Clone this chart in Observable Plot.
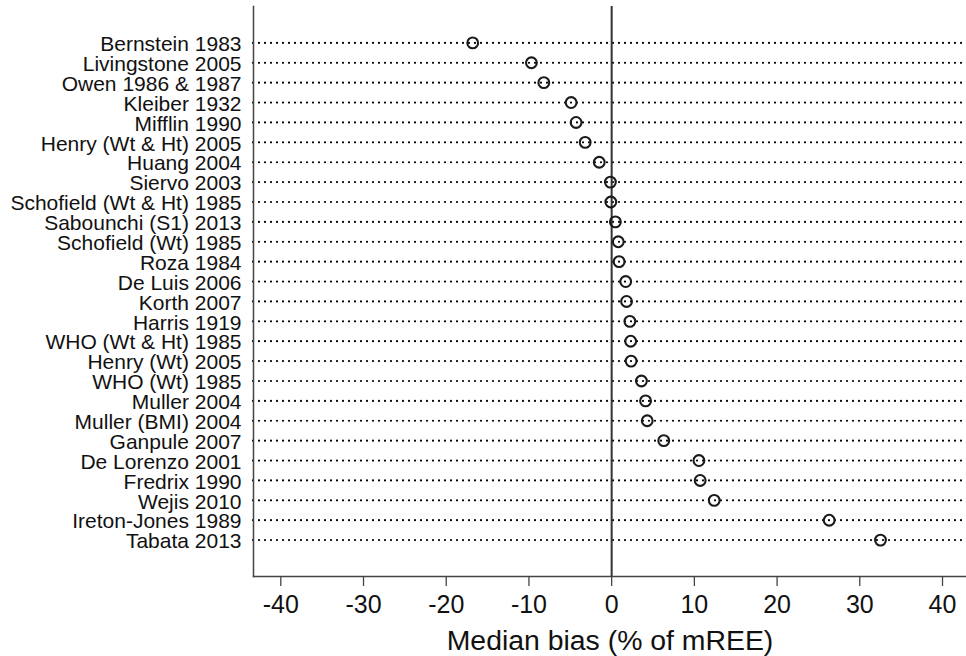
<!DOCTYPE html>
<html>
<head>
<meta charset="utf-8">
<script src="https://cdn.jsdelivr.net/npm/d3@7"></script>
<script src="https://cdn.jsdelivr.net/npm/@observablehq/plot@0.6"></script>
<style>
  html, body { margin: 0; padding: 0; background: #fff; }
  svg { display: block; }
</style>
</head>
<body>
<div id="chart"></div>
<script>
const studies = [
  "Bernstein 1983", "Livingstone 2005", "Owen 1986 & 1987", "Kleiber 1932",
  "Mifflin 1990", "Henry (Wt & Ht) 2005", "Huang 2004", "Siervo 2003",
  "Schofield (Wt & Ht) 1985", "Sabounchi (S1) 2013", "Schofield (Wt) 1985",
  "Roza 1984", "De Luis 2006", "Korth 2007", "Harris 1919", "WHO (Wt & Ht) 1985",
  "Henry (Wt) 2005", "WHO (Wt) 1985", "Muller 2004", "Muller (BMI) 2004",
  "Ganpule 2007", "De Lorenzo 2001", "Fredrix 1990", "Wejis 2010",
  "Ireton-Jones 1989", "Tabata 2013"
];
const medianBias = [
  -16.8, -9.7, -8.2, -4.9,
  -4.3, -3.2, -1.5, -0.15,
  -0.1, 0.45, 0.8,
  0.9, 1.7, 1.8, 2.2, 2.3,
  2.35, 3.6, 4.1, 4.3,
  6.3, 10.55, 10.7, 12.4,
  26.3, 32.5
];
const xTicks = [-40, -30, -20, -10, 0, 10, 20, 30, 40];
const xLabel = "Median bias (% of mREE)";

const data = studies.map((s, i) => ({study: s, bias: medianBias[i]}));

const font = "'Liberation Sans', Arial, Helvetica, sans-serif";

const chart = Plot.plot({
  width: 966,
  height: 656,
  marginLeft: 253,
  marginRight: 0,
  marginTop: 6,
  marginBottom: 80,
  style: {fontFamily: font, background: "#fff", color: "#222"},
  x: {domain: [-43.3, 42.9]},
  y: {domain: studies, type: "point", padding: 1.83, round: false},
  marks: [
    Plot.ruleY(data, {y: "study", stroke: "#000", strokeWidth: 2.2, strokeDasharray: "0,6", strokeLinecap: "round"}),
    Plot.ruleX([0], {stroke: "#333", strokeWidth: 2}),
    Plot.frame({anchor: "left", stroke: "#444", strokeWidth: 1.5}),
    Plot.frame({anchor: "bottom", stroke: "#444", strokeWidth: 1.5}),
    Plot.dot(data, {x: "bias", y: "study", r: 5.4, stroke: "#1a1a1a", strokeWidth: 2.1, fill: "none"}),
    Plot.axisX({ticks: xTicks, tickSize: 10, tickPadding: 9, fontSize: 25, label: null, stroke: "#444", strokeWidth: 1.3, fill: "#111", tickFormat: d => d < 0 ? "-" + Math.abs(d) : String(d)}),
    Plot.axisY({tickSize: 0, tickPadding: 12, fontSize: 21, label: null, dy: 1.5, fill: "#111"}),
    Plot.text([xLabel], {frameAnchor: "bottom", dy: 64.7, fontSize: 28.4, lineAnchor: "middle", fill: "#111"})
  ]
});
document.getElementById("chart").appendChild(chart);
</script>
</body>
</html>
